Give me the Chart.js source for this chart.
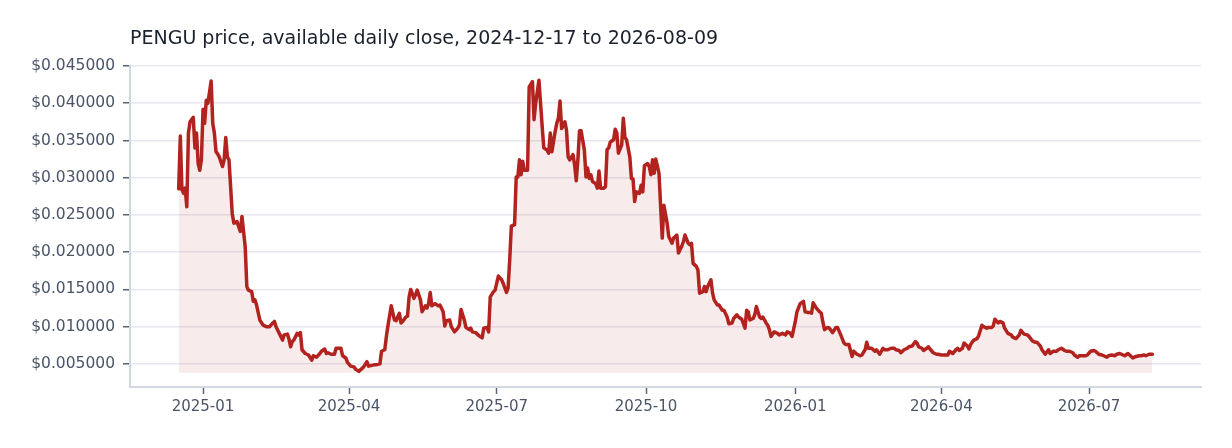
<!DOCTYPE html>
<html>
<head>
<meta charset="utf-8">
<script src="https://cdn.jsdelivr.net/npm/chart.js@4.4.1/dist/chart.umd.min.js"></script>
<style>
  html, body { margin: 0; padding: 0; background: #ffffff; }
  #wrap { width: 1232px; height: 448px; }
</style>
</head>
<body>
<div id="wrap"><canvas id="chart" width="1232" height="448"></canvas></div>
<script>
// PENGU daily close
const titleText = 'PENGU price, available daily close, 2024-12-17 to 2026-08-09';
const startDate = '2024-12-17';

// days since startDate (gaps = days not available / not read)
const closeDays = [
  0, 1, 2, 3, 4, 5, 6, 7, 9, 10,
  11, 12, 13, 14, 15, 16, 17, 18, 20, 21,
  22, 23, 24, 25, 27, 28, 29, 30, 31, 33,
  34, 36, 37, 38, 39, 41, 42, 43, 45, 46,
  47, 48, 50, 52, 54, 56, 58, 59, 60, 62,
  64, 65, 67, 68, 69, 70, 71, 73, 74, 75,
  76, 78, 80, 82, 83, 85, 87, 88, 90, 91,
  92, 94, 96, 97, 99, 100, 101, 103, 104, 106,
  108, 109, 111, 112, 114, 116, 117, 119, 121, 122,
  124, 125, 127, 128, 129, 131, 132, 133, 134, 136,
  137, 138, 140, 141, 142, 143, 145, 146, 147, 149,
  150, 152, 153, 154, 155, 156, 158, 160, 161, 163,
  164, 165, 167, 168, 170, 172, 173, 174, 176, 177,
  179, 180, 181, 183, 185, 187, 188, 190, 191, 192,
  194, 195, 197, 199, 200, 202, 203, 204, 205, 207,
  208, 209, 210, 211, 212, 213, 215, 216, 218, 219,
  220, 222, 223, 224, 225, 227, 228, 229, 230, 232,
  233, 234, 235, 236, 238, 239, 240, 241, 243, 244,
  245, 246, 247, 248, 250, 251, 252, 253, 254, 255,
  257, 258, 259, 260, 262, 263, 264, 265, 266, 268,
  269, 270, 271, 273, 274, 275, 276, 278, 279, 280,
  281, 282, 284, 285, 286, 287, 289, 290, 291, 292,
  293, 294, 296, 297, 298, 299, 301, 302, 304, 305,
  307, 308, 310, 311, 312, 314, 315, 316, 317, 319,
  320, 321, 323, 324, 325, 326, 328, 329, 330, 332,
  333, 335, 336, 338, 339, 341, 342, 344, 345, 347,
  349, 350, 351, 352, 354, 355, 356, 358, 359, 360,
  362, 363, 364, 365, 367, 369, 370, 372, 374, 375,
  377, 378, 380, 381, 383, 385, 386, 388, 389, 390,
  391, 393, 395, 396, 397, 398, 400, 401, 403, 405,
  406, 408, 410, 411, 413, 415, 416, 418, 420, 421,
  423, 424, 425, 427, 429, 430, 432, 434, 435, 437,
  439, 441, 442, 444, 445, 447, 449, 450, 452, 454,
  455, 456, 458, 459, 461, 462, 463, 465, 467, 468,
  470, 472, 474, 475, 477, 479, 480, 481, 483, 484,
  486, 487, 488, 490, 492, 493, 495, 496, 498, 499,
  501, 502, 503, 505, 506, 508, 509, 511, 513, 514,
  516, 518, 519, 521, 523, 524, 526, 528, 529, 531,
  532, 534, 536, 537, 539, 541, 542, 544, 546, 547,
  549, 551, 552, 554, 555, 557, 559, 560, 562, 564,
  565, 567, 569, 570, 572, 573, 575, 577, 578, 580,
  582, 583, 585, 587, 588, 590, 592, 593, 595, 596,
  598, 600
];

// close in USD, same order as closeDays
const closes = [
  0.0285, 0.0356, 0.0284, 0.0279, 0.0286, 0.0261, 0.0360, 0.0375, 0.0381, 0.0340,
  0.0360, 0.0319, 0.0310, 0.0324, 0.0392, 0.0373, 0.0404, 0.0400, 0.0430, 0.0373,
  0.0360, 0.0335, 0.0332, 0.0328, 0.0315, 0.0324, 0.0354, 0.0328, 0.0324, 0.0252,
  0.0239, 0.0241, 0.0234, 0.0228, 0.0248, 0.0207, 0.0154, 0.0149, 0.0147, 0.0134,
  0.0136, 0.0129, 0.0109, 0.0102, 0.0100, 0.0100, 0.0105, 0.0107, 0.0100, 0.0091,
  0.0082, 0.0089, 0.0090, 0.0083, 0.0073, 0.0080, 0.0082, 0.0091, 0.0089, 0.0092,
  0.0069, 0.0064, 0.0062, 0.0055, 0.0061, 0.0059, 0.0064, 0.0067, 0.0070, 0.0064,
  0.0065, 0.0063, 0.0063, 0.0071, 0.0071, 0.0071, 0.0061, 0.0058, 0.0052, 0.0047,
  0.0046, 0.0043, 0.0040, 0.0042, 0.0046, 0.0053, 0.0047, 0.0048, 0.0049, 0.0049,
  0.0050, 0.0067, 0.0069, 0.0087, 0.0102, 0.0128, 0.0118, 0.0109, 0.0108, 0.0118,
  0.0105, 0.0107, 0.0113, 0.0114, 0.0140, 0.0150, 0.0138, 0.0143, 0.0149, 0.0136,
  0.0120, 0.0128, 0.0125, 0.0131, 0.0146, 0.0128, 0.0131, 0.0128, 0.0129, 0.0120,
  0.0101, 0.0108, 0.0109, 0.0100, 0.0093, 0.0098, 0.0102, 0.0123, 0.0109, 0.0099,
  0.0096, 0.0098, 0.0093, 0.0092, 0.0088, 0.0085, 0.0098, 0.0099, 0.0093, 0.0140,
  0.0147, 0.0149, 0.0168, 0.0163, 0.0158, 0.0146, 0.0152, 0.0190, 0.0235, 0.0237,
  0.0301, 0.0301, 0.0324, 0.0304, 0.0322, 0.0310, 0.0310, 0.0422, 0.0429, 0.0378,
  0.0400, 0.0431, 0.0400, 0.0369, 0.0340, 0.0337, 0.0333, 0.0360, 0.0335, 0.0362,
  0.0373, 0.0380, 0.0403, 0.0366, 0.0375, 0.0364, 0.0328, 0.0324, 0.0331, 0.0317,
  0.0296, 0.0324, 0.0363, 0.0363, 0.0337, 0.0301, 0.0313, 0.0299, 0.0304, 0.0295,
  0.0292, 0.0286, 0.0309, 0.0286, 0.0286, 0.0288, 0.0338, 0.0340, 0.0348, 0.0351,
  0.0365, 0.0360, 0.0333, 0.0344, 0.0380, 0.0354, 0.0351, 0.0328, 0.0299, 0.0298,
  0.0268, 0.0281, 0.0279, 0.0290, 0.0281, 0.0316, 0.0319, 0.0315, 0.0304, 0.0324,
  0.0306, 0.0325, 0.0306, 0.0261, 0.0219, 0.0263, 0.0239, 0.0221, 0.0212, 0.0219,
  0.0223, 0.0199, 0.0208, 0.0214, 0.0223, 0.0212, 0.0210, 0.0212, 0.0185, 0.0181,
  0.0176, 0.0145, 0.0147, 0.0154, 0.0147, 0.0154, 0.0163, 0.0145, 0.0136, 0.0129,
  0.0129, 0.0122, 0.0122, 0.0113, 0.0104, 0.0105, 0.0111, 0.0116, 0.0113, 0.0110,
  0.0098, 0.0122, 0.0120, 0.0109, 0.0111, 0.0116, 0.0127, 0.0113, 0.0111, 0.0113,
  0.0105, 0.0102, 0.0096, 0.0087, 0.0093, 0.0091, 0.0089, 0.0091, 0.0089, 0.0093,
  0.0091, 0.0087, 0.0107, 0.0120, 0.0131, 0.0134, 0.0120, 0.0119, 0.0119, 0.0118,
  0.0132, 0.0125, 0.0120, 0.0118, 0.0106, 0.0096, 0.0099, 0.0098, 0.0092, 0.0099,
  0.0099, 0.0089, 0.0078, 0.0076, 0.0076, 0.0060, 0.0067, 0.0063, 0.0061, 0.0062,
  0.0069, 0.0079, 0.0071, 0.0071, 0.0067, 0.0069, 0.0063, 0.0071, 0.0069, 0.0069,
  0.0071, 0.0071, 0.0069, 0.0068, 0.0065, 0.0069, 0.0071, 0.0073, 0.0074, 0.0080,
  0.0078, 0.0073, 0.0071, 0.0068, 0.0071, 0.0073, 0.0070, 0.0065, 0.0063, 0.0063,
  0.0062, 0.0062, 0.0062, 0.0067, 0.0064, 0.0069, 0.0071, 0.0068, 0.0071, 0.0078,
  0.0074, 0.0070, 0.0076, 0.0082, 0.0084, 0.0088, 0.0102, 0.0100, 0.0098, 0.0099,
  0.0099, 0.0101, 0.0110, 0.0105, 0.0107, 0.0105, 0.0098, 0.0091, 0.0089, 0.0086,
  0.0084, 0.0089, 0.0095, 0.0090, 0.0089, 0.0087, 0.0081, 0.0079, 0.0079, 0.0074,
  0.0069, 0.0063, 0.0069, 0.0064, 0.0067, 0.0067, 0.0069, 0.0071, 0.0068, 0.0067,
  0.0067, 0.0065, 0.0062, 0.0059, 0.0061, 0.0061, 0.0061, 0.0062, 0.0067, 0.0068,
  0.0067, 0.0063, 0.0062, 0.0061, 0.0059, 0.0061, 0.0062, 0.0061, 0.0063, 0.0064,
  0.0062, 0.0061, 0.0064, 0.0060, 0.0058, 0.0060, 0.0061, 0.0061, 0.0062, 0.0061,
  0.0063, 0.0063
];

const xTickLabels = ['2025-01', '2025-04', '2025-07', '2025-10', '2026-01', '2026-04', '2026-07'];
const yTickValues = [0.005, 0.010, 0.015, 0.020, 0.025, 0.030, 0.035, 0.040, 0.045];
const fillFloor = 0.0038;

const DAY = 86400000;
const startMs = Date.parse(startDate + 'T00:00:00Z');
const lastDay = closeDays[closeDays.length - 1];
const xTickValues = xTickLabels.map(l => Date.UTC(+l.slice(0, 4), +l.slice(5, 7) - 1, 1));

const points = closeDays.map((d, i) => ({ x: startMs + d * DAY, y: closes[i] }));

const FONT = '"DejaVu Sans", "Liberation Sans", sans-serif';
const tickGrey = '#4a5568';

// title sits at the left edge of the plot, like the reference
const titlePlugin = {
    id: 'leftTitle',
    afterDraw(chart) {
        const ctx = chart.ctx;
        ctx.save();
        ctx.font = '19px ' + FONT;
        ctx.fillStyle = '#1a202c';
        ctx.textBaseline = 'middle';
        ctx.textAlign = 'left';
        ctx.fillText(titleText, chart.chartArea.left, 39);
        ctx.restore();
    }
};

const ctx = document.getElementById('chart').getContext('2d');
new Chart(ctx, {
    type: 'line',
    data: {
        datasets: [{
            label: 'PENGU close',
            data: points,
            borderColor: '#b2221e',
            backgroundColor: 'rgba(178, 34, 34, 0.09)',
            borderWidth: 3.5,
            borderJoinStyle: 'round',
            borderCapStyle: 'round',
            pointRadius: 0,
            tension: 0,
            fill: { value: fillFloor }
        }]
    },
    options: {
        responsive: false,
        devicePixelRatio: 1,
        animation: false,
        parsing: false,
        layout: { padding: { top: 66, right: 31, left: 0, bottom: 0 } },
        plugins: {
            legend: { display: false },
            tooltip: { enabled: false },
            title: { display: false }
        },
        scales: {
            x: {
                type: 'linear',
                min: startMs - 30 * DAY,
                max: startMs + (lastDay + 30) * DAY,
                afterBuildTicks: (scale) => { scale.ticks = xTickValues.map(v => ({ value: v })); },
                afterFit: (scale) => { scale.height = 61; },
                grid: { drawOnChartArea: false, drawTicks: true, tickLength: 7, tickColor: '#5b6475', tickWidth: 1.5 },
                border: { display: true, color: '#d3d7df', width: 2 },
                ticks: {
                    autoSkip: false,
                    maxRotation: 0,
                    padding: 4,
                    color: tickGrey,
                    font: { family: FONT, size: 15 },
                    callback: (v, i) => xTickLabels[i]
                }
            },
            y: {
                min: 0.0019,
                max: 0.045,
                afterBuildTicks: (scale) => { scale.ticks = yTickValues.map(v => ({ value: v })); },
                afterFit: (scale) => { scale.width = 130; },
                grid: { color: '#e6e8ee', lineWidth: 1.5, drawTicks: true, tickLength: 7, tickColor: '#5b6475', tickWidth: 1.5 },
                border: { display: true, color: '#d3d7df', width: 2 },
                ticks: {
                    padding: 8,
                    color: tickGrey,
                    font: { family: FONT, size: 15.5 },
                    callback: (v) => '$' + Number(v).toFixed(6)
                }
            }
        }
    },
    plugins: [titlePlugin]
});
</script>
</body>
</html>
